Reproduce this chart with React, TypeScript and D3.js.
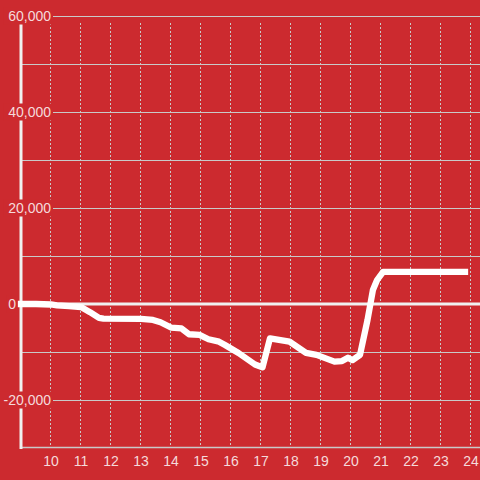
import React from "react";
import * as d3 from "d3";

const hours: number[] = [9.0, 9.5, 10.0, 10.2, 10.6, 11.0, 11.3, 11.6, 11.75, 13.0, 13.4, 13.65, 14.0, 14.35, 14.6, 14.95, 15.25, 15.6, 15.8, 16.25, 16.8, 17.05, 17.3, 17.95, 18.5, 18.85, 19.45, 19.7, 19.9, 20.05, 20.3, 20.55, 20.73, 20.87, 21.07, 23.8];
const values: number[] = [0, 0, -100, -270, -450, -650, -1700, -2900, -3050, -3100, -3330, -3800, -4900, -5100, -6300, -6450, -7350, -7850, -8540, -10200, -12600, -13200, -7150, -7850, -10200, -10600, -12000, -11900, -11200, -11700, -10600, -3330, 2900, 5000, 6700, 6700];

const xTicks: number[] = [10, 11, 12, 13, 14, 15, 16, 17, 18, 19, 20, 21, 22, 23, 24];
const yGrid: number[] = [60000, 50000, 40000, 30000, 20000, 10000, 0, -10000, -20000];
const yLabels: number[] = [60000, 40000, 20000, 0, -20000];

const BG = "#CC2A2F";
const TEXT = "#F5DADB";
const GRID = "#C9C9C9";
const FONT = "'Liberation Sans', Arial, sans-serif";

export default function App() {
  const x = d3.scaleLinear().domain([9, 24]).range([21, 471]);
  const y = d3.scaleLinear().domain([-30000, 60000]).range([448, 16]);
  const fmt = (v: number) => d3.format(",")(v).replace("\u2212", "-");
  const data = hours.map((h, i) => [h, values[i]] as [number, number]);
  const line = d3
    .line<[number, number]>()
    .x((d) => x(d[0]))
    .y((d) => y(d[1]))
    .curve(d3.curveLinear);
  const crisp = (v: number) => Math.round(v) - 0.5;

  return (
    <div style={{ position: "fixed", left: 0, top: 0, width: 480, height: 480 }}>
      <svg width={480} height={480} style={{ display: "block" }}>
        <rect x={0} y={0} width={480} height={480} fill={BG} />
        {yGrid
          .filter((v) => v !== 0)
          .map((v) => (
            <line key={"h" + v} x1={21} x2={480} y1={crisp(y(v)) + 1} y2={crisp(y(v)) + 1} stroke={GRID} strokeWidth={1} />
          ))}
        {xTicks.map((t) => (
          <line
            key={"v" + t}
            x1={crisp(x(t))}
            x2={crisp(x(t))}
            y1={23}
            y2={446}
            stroke={GRID}
            strokeWidth={1}
            strokeDasharray="2,2"
          />
        ))}
        <line x1={20} x2={480} y1={y(-30000) - 0.5} y2={y(-30000) - 0.5} stroke={GRID} strokeWidth={1.5} />
        <line x1={21} x2={21} y1={16} y2={449} stroke="#F0F0F0" strokeWidth={3} />
        <line x1={17} x2={480} y1={y(0)} y2={y(0)} stroke="#F0F0F0" strokeWidth={3} />
        {yLabels.map((v) => {
          const s = fmt(v);
          const right = v === 0 ? 16 : 51;
          const w = s.length * 7.6;
          return (
            <g key={"yl" + v}>
              <rect x={right - w - 2} y={y(v) - 8.5} width={w + 4} height={17} fill={BG} />
              <text
                x={right}
                y={y(v)}
                dy="0.35em"
                textAnchor="end"
                fill={TEXT}
                fontSize={14}
                fontFamily={FONT}
              >
                {s}
              </text>
            </g>
          );
        })}
        {xTicks.map((t) => (
          <text
            key={"xl" + t}
            x={x(t)}
            y={466}
            textAnchor="middle"
            fill={TEXT}
            fontSize={14}
            fontFamily={FONT}
          >
            {t}
          </text>
        ))}
        <path
          d={line(data) || ""}
          fill="none"
          stroke="#FFFFFF"
          strokeWidth={6.3}
          strokeLinecap="square"
          strokeLinejoin="round"
        />
      </svg>
    </div>
  );
}
